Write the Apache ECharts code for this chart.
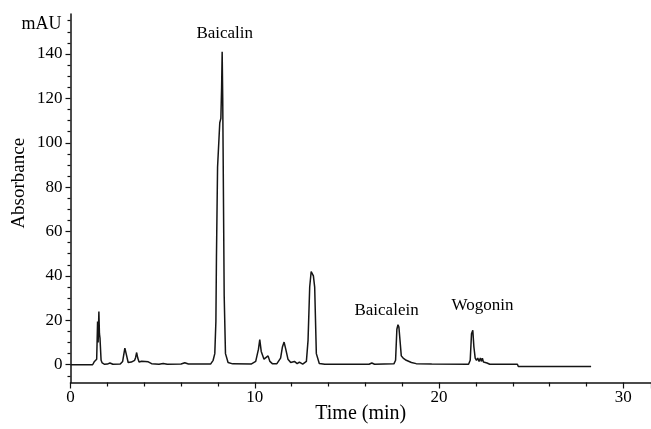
<!DOCTYPE html>
<html>
<head>
<meta charset="utf-8">
<title>Chromatogram</title>
<script src="https://cdn.jsdelivr.net/npm/echarts@6/dist/echarts.min.js"></script>
<style>
    html, body { margin: 0; padding: 0; background: #fff; }
    .chart { width: 651px; height: 429px; }
</style>
</head>
<body>
<div class="chart"></div>
<script>
// retention time (min)
var times = [0, 1.2, 1.3, 1.42, 1.47, 1.5, 1.54, 1.57, 1.6, 1.66, 1.72, 1.85, 2.0, 2.14, 2.3, 2.7, 2.83, 2.9, 2.95, 3.02,
    3.13, 3.2, 3.3, 3.4, 3.48, 3.53, 3.59, 3.65, 3.72, 3.86, 3.95, 4.05, 4.15, 4.22, 4.4, 4.8, 5.03, 5.25, 6.0, 6.2,
    6.4, 7.6, 7.74, 7.83, 7.89, 7.92, 7.98, 8.1, 8.16, 8.2, 8.23, 8.26, 8.28, 8.34, 8.41, 8.55, 8.8, 9.8, 10.05, 10.2,
    10.27, 10.35, 10.5, 10.6, 10.72, 10.82, 10.95, 11.2, 11.4, 11.5, 11.59, 11.68, 11.8, 11.95, 12.15, 12.3, 12.42, 12.6, 12.8, 12.89,
    12.98, 13.06, 13.12, 13.18, 13.25, 13.34, 13.5, 13.8, 16.2, 16.35, 16.5, 17.55, 17.64, 17.71, 17.77, 17.82, 17.86, 17.95, 18.05, 18.22,
    18.5, 18.76, 19.6, 21.6, 21.69, 21.76, 21.83, 21.89, 21.96, 22.03, 22.1, 22.17, 22.24, 22.3, 22.35, 22.41, 22.47, 22.6, 22.75, 24.25,
    24.3, 28.25];
// absorbance (mAU)
var absorbance = [0, 0, 1.5, 2.5, 19.5, 10, 24, 14, 12, 2, 0.8, 0.2, 0.3, 0.8, 0.2, 0.3, 1.5, 5, 7.5, 5,
    1, 0.8, 1.2, 0.6, 2, 3.2, 5.5, 3, 1.2, 1.6, 1, 1.5, 0.9, 1.3, 0.5, 0.2, 0.6, 0.2, 0.3, 0.9,
    0.3, 0.3, 2, 5, 19.6, 48.5, 89, 109, 111, 125, 141, 120, 98, 31, 5, 1, 0.4, 0.3, 1.5, 7,
    11.3, 6, 2.5, 3, 4, 1.5, 0.5, 0.5, 3, 8, 10.2, 7, 2.5, 1, 1.5, 0.5, 1.2, 0.3, 1.5, 11,
    35, 42, 42, 40, 35, 5, 0.6, 0.2, 0.2, 0.8, 0.2, 0.4, 2, 16, 18, 17, 16.5, 4, 3, 2,
    1, 0.5, 0.3, 0.2, 2, 14, 15.5, 8, 3, 2, 3, 1.5, 3, 1.5, 3, 1.2, 2, 0.8, 0.2, 0.2,
    -0.8, -0.8];

// peak names and where their labels sit
var peakNames = ['Baicalin', 'Baicalein', 'Wogonin'];
var peakLabelTime = [8.37, 17.15, 22.36];
var peakLabelValue = [149.4, 24.5, 26.5];

// tick labels
var yTicks = [0, 20, 40, 60, 80, 100, 120, 140];
var yMinorTicks = [];
for (var k = -5; k <= 155; k += 5) {
    if (yTicks.indexOf(k) < 0) yMinorTicks.push(k);
}

(function () {
    let myechart = echarts.init(document.querySelector('.chart'));
    let serif = '"Liberation Serif", "Times New Roman", serif';

    let trace = times.map(function (t, i) {
        return [t, absorbance[i]];
    });
    let labels = peakNames.map(function (n, i) {
        return { name: n, value: [peakLabelTime[i], peakLabelValue[i]] };
    });

    var option = {
        animation: false,
        backgroundColor: '#fff',
        grid: {
            left: 70.5,
            right: 0,
            top: 14,
            bottom: 46.5,
            // keep the grid where it is, don't shrink for labels
            outerBoundsMode: 'none',
            containLabel: false
        },
        xAxis: {
            type: 'value',
            min: 0,
            max: 31.5,
            interval: 10,
            name: 'Time (min)',
            nameLocation: 'middle',
            nameGap: 21,
            nameMoveOverlap: false,
            nameTextStyle: {
                fontFamily: serif,
                fontSize: 20,
                color: '#000'
            },
            axisLine: {
                onZero: false,
                lineStyle: { color: '#111', width: 1.5 }
            },
            axisTick: {
                inside: false,
                length: 6,
                lineStyle: { color: '#111', width: 1.2 }
            },
            minorTick: {
                show: true,
                splitNumber: 5,
                length: 4,
                lineStyle: { color: '#111', width: 1.2 }
            },
            axisLabel: {
                fontFamily: serif,
                fontSize: 17,
                color: '#000',
                margin: 7,
                showMaxLabel: false
            },
            splitLine: { show: false }
        },
        yAxis: [
            {
                // major ticks and labels
                type: 'value',
                min: -8,
                max: 158,
                name: 'mAU',
                nameLocation: 'end',
                nameGap: -19,
                nameTextStyle: {
                    fontFamily: serif,
                    fontSize: 18,
                    color: '#000',
                    align: 'right',
                    padding: [0, 9, 0, 0]
                },
                axisLine: {
                    show: true,
                    onZero: false,
                    lineStyle: { color: '#111', width: 1.5 }
                },
                axisTick: {
                    show: true,
                    length: 5,
                    customValues: yTicks,
                    lineStyle: { color: '#111', width: 1.2 }
                },
                axisLabel: {
                    customValues: yTicks,
                    fontFamily: serif,
                    fontSize: 17,
                    color: '#000',
                    margin: 8
                },
                splitLine: { show: false }
            },
            {
                // minor ticks + axis title
                type: 'value',
                min: -8,
                max: 158,
                position: 'left',
                name: 'Absorbance',
                nameLocation: 'middle',
                nameGap: 42,
                nameMoveOverlap: false,
                nameTextStyle: {
                    fontFamily: serif,
                    fontSize: 19,
                    color: '#000',
                    padding: [0, 0, 0, 30]
                },
                axisLine: { show: false, onZero: false },
                axisTick: {
                    show: true,
                    length: 3,
                    customValues: yMinorTicks,
                    lineStyle: { color: '#111', width: 1.2 }
                },
                axisLabel: { show: false },
                splitLine: { show: false }
            }
        ],
        series: [
            {
                name: 'trace',
                type: 'line',
                data: trace,
                showSymbol: false,
                symbol: 'none',
                lineStyle: { color: '#151515', width: 1.5 }
            },
            {
                name: 'peaks',
                type: 'scatter',
                data: labels,
                symbolSize: 0,
                itemStyle: { opacity: 1 },
                label: {
                    show: true,
                    position: 'inside',
                    formatter: '{b}',
                    fontFamily: serif,
                    fontSize: 17,
                    color: '#000'
                }
            }
        ]
    };

    myechart.setOption(option);
    window.addEventListener('resize', function () {
        myechart.resize();
    });
})();
</script>
</body>
</html>
